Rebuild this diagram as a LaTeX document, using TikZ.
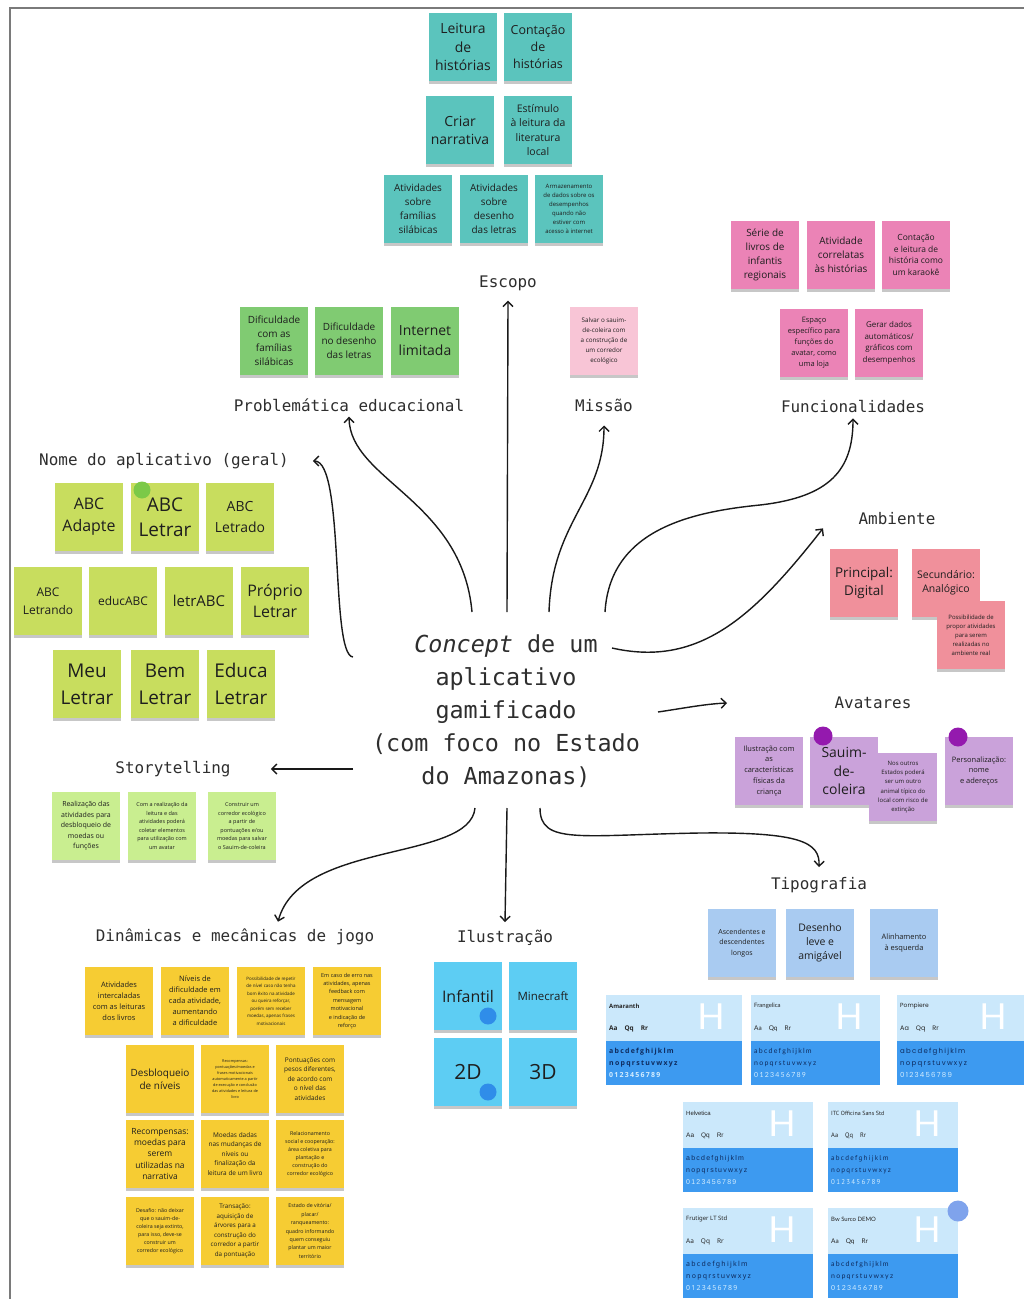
\documentclass[tikz,border=0pt]{standalone}
\usepackage{fontspec}
\setmainfont{Open Sans}
\newfontfamily\monof{DejaVu Sans Mono}[ItalicFont={DejaVu Sans Mono Oblique}]
\newfontfamily\helvf{Liberation Sans}
\newfontfamily\ptf{PT Sans}
\newfontfamily\notof{Noto Sans}
\newfontfamily\latof{Lato}
\newfontfamily\poppf{Poppins}
\usetikzlibrary{arrows.meta,shadows}

\definecolor{cEsc}{HTML}{5BC4BD}
\definecolor{cProb}{HTML}{80CB72}
\definecolor{cMis}{HTML}{F8C5D6}
\definecolor{cFun}{HTML}{EB83B6}
\definecolor{cAmb}{HTML}{F0909B}
\definecolor{cAva}{HTML}{CAA2DA}
\definecolor{cSto}{HTML}{C9EE90}
\definecolor{cNom}{HTML}{C8DD5E}
\definecolor{cDin}{HTML}{F6CC33}
\definecolor{cIlu}{HTML}{5DCDF3}
\definecolor{cTip}{HTML}{A9CBF1}
\definecolor{cardLight}{HTML}{CBE8FB}
\definecolor{cardBlue}{HTML}{3D9AF0}
\definecolor{cardInk}{HTML}{0E2B5E}
\definecolor{cardDigit}{HTML}{D3EDFF}
\definecolor{noteInk}{HTML}{1E1E1E}
\definecolor{lblInk}{HTML}{2E2E2E}
\definecolor{frameGray}{HTML}{7A7A7A}
\definecolor{pinPurple}{HTML}{9419AE}
\definecolor{pinGreen}{HTML}{7CC948}
\definecolor{pinBlue}{HTML}{2F8DE9}
\definecolor{pinPeri}{HTML}{7FA3EC}

\tikzset{
  x=1bp, y=-1bp,
  note/.style={drop shadow={shadow xshift=0bp, shadow yshift=-3bp, opacity=.22, fill=black},
    minimum width=68bp, minimum height=68bp, inner sep=1bp, align=center, text=noteInk},
  fs/.style 2 args={font=\fontsize{#1}{#2}\selectfont},
  escnote/.style={note, fill=cEsc},
  probnote/.style={note, fill=cProb},
  misnote/.style={note, fill=cMis},
  funnote/.style={note, fill=cFun},
  ambnote/.style={note, fill=cAmb},
  avanote/.style={note, fill=cAva},
  stonote/.style={note, fill=cSto},
  nomnote/.style={note, fill=cNom},
  dinnote/.style={note, fill=cDin},
  ilunote/.style={note, fill=cIlu},
  tipnote/.style={note, fill=cTip},
  lbl/.style={font=\monof\fontsize{16}{19}\selectfont, text=lblInk, inner sep=0pt},
  conn/.style={line width=1.4bp, draw=black!90, -{Straight Barb[length=5bp, width=10bp, line width=1.4bp]}},
  pin/.style={circle, inner sep=0pt, minimum size=#1},
  cardtop/.style={fill=cardLight, inner sep=0pt, anchor=north west, minimum height=46bp},
  cardbot/.style={fill=cardBlue, inner sep=0pt, anchor=north west, minimum height=44bp},
  cardtxt/.style={anchor=west, inner sep=0pt},
}

% specimen card: id, left x, top y, width, title, specimen font
\newcommand\typecard[6]{%
  \node[cardtop, minimum width=#4bp] (#1-top) at (#2,#3) {};
  \node[cardbot, minimum width=#4bp] (#1-bot) at (#2,#3+46) {};
  \node[cardtxt, font=#6\fontsize{6}{7}\selectfont, text=black!85] (#1-name) at (#2+3,#3+11) {#5};
  \node[cardtxt, font=#6\fontsize{6.5}{7}\selectfont, text=black!85] (#1-aa) at (#2+3,#3+34) {Aa\hspace{7bp}Qq\hspace{7bp}Rr};
  \node[font=\latof\fontsize{36}{36}\selectfont, text=white, inner sep=0pt] (#1-h) at (#2+#4-31,#3+22) {H};
  \node[cardtxt, font=#6\fontsize{7}{8}\selectfont\addfontfeature{LetterSpace=18}, text=cardInk] (#1-l1) at (#2+3,#3+57) {abcdefghijklm};
  \node[cardtxt, font=#6\fontsize{7}{8}\selectfont\addfontfeature{LetterSpace=18}, text=cardInk] (#1-l2) at (#2+3,#3+69) {nopqrstuvwxyz};
  \node[cardtxt, font=#6\fontsize{7}{8}\selectfont\addfontfeature{LetterSpace=18}, text=cardDigit] (#1-l3) at (#2+3,#3+80) {0123456789};
}

\begin{document}
\begin{tikzpicture}
\useasboundingbox (0,0) rectangle (1024,1299);
\fill[white] (0,0) rectangle (1024,1299);
% board frame
\draw[frameGray, line width=2.5bp] (10,1299) -- (10,8) -- (1024,8);

% ---------- central theme ----------
\node[font=\monof\fontsize{23.5}{33}\selectfont, align=center, text=lblInk, inner sep=0pt] (concept) at (506,711)
  {\textit{Concept} de um\\aplicativo\\gamificado\\(com foco no Estado\\do Amazonas)};

% ---------- Escopo ----------
\node[escnote, fs={14}{18.5}] (e1) at (463,47) {Leitura\\de\\histórias};
\node[escnote, fs={12.5}{17}] (e2) at (538,47) {Contação\\de\\histórias};
\node[escnote, fs={14}{18}] (e3) at (460,130) {Criar\\narrativa};
\node[escnote, fs={10.5}{14.5}] (e4) at (538,130) {Estímulo\\à leitura da\\literatura\\local};
\node[escnote, fs={10}{14}] (e5) at (418,209) {Atividades\\sobre\\famílias\\silábicas};
\node[escnote, fs={10}{14}] (e6) at (494,209) {Atividades\\sobre\\desenho\\das letras};
\node[escnote, fs={6}{9}] (e7) at (569,209) {Armazenamento\\de dados sobre os\\desempenhos\\quando não\\estiver com\\acesso à internet};
\node[lbl] (escopo) at (508,283) {Escopo};

% ---------- Problemática educacional ----------
\node[probnote, fs={10}{14}] (p1) at (274,341) {Dificuldade\\com as\\famílias\\silábicas};
\node[probnote, fs={10}{14}] (p2) at (349,341) {Dificuldade\\no desenho\\das letras};
\node[probnote, fs={14}{20}] (p3) at (425,341) {Internet\\limitada};
\node[lbl] (prob) at (349,405) {Problemática educacional};

% ---------- Missão ----------
\node[misnote, fs={6.3}{10}] (m1) at (604,341) {Salvar o sauim-\\de-coleira com\\a construção de\\um corredor\\ecológico};
\node[lbl] (missao) at (604,405) {Missão};

% ---------- Funcionalidades ----------
\node[funnote, fs={10}{14}] (f1) at (765,255) {Série de\\livros de\\infantis\\regionais};
\node[funnote, fs={10}{14}] (f2) at (841,255) {Atividade\\correlatas\\às histórias};
\node[funnote, fs={8.5}{11.5}] (f3) at (916,255) {Contação\\e leitura de\\história como\\um karaokê};
\node[funnote, fs={7.5}{11}] (f4) at (814,343) {Espaço\\específico para\\funções do\\avatar, como\\uma loja};
\node[funnote, fs={8}{11.5}] (f5) at (889,343) {Gerar dados\\automáticos/\\gráficos com\\desempenhos};
\node[lbl] (func) at (853,407) {Funcionalidades};

% ---------- Ambiente ----------
\node[ambnote, fs={13.5}{19}] (a1) at (864,583) {Principal:\\Digital};
\node[ambnote, fs={10.5}{14}] (a2) at (946,583) {Secundário:\\Analógico};
\node[ambnote, fs={6}{9}] (a3) at (971,635) {Possibilidade de\\propor atividades\\para serem\\realizadas no\\ambiente real};
\node[lbl] (ambiente) at (897,519) {Ambiente};

% ---------- Avatares ----------
\node[avanote, fs={7.5}{11}] (v1) at (769,771) {Ilustração com\\as\\características\\físicas da\\criança};
\node[avanote, fs={14}{19}] (v2) at (844,771) {Sauim-\\de-\\coleira};
\node[avanote, fs={6}{9.2}] (v3) at (903,787) {Nos outros\\Estados poderá\\ser um outro\\animal típico do\\local com risco de\\extinção};
\node[avanote, fs={7.5}{10.5}] (v4) at (979,771) {Personalização:\\nome\\e adereços};
\node[pin=19bp, fill=pinPurple] (vp1) at (823,736) {};
\node[pin=19bp, fill=pinPurple] (vp2) at (958,737) {};
\node[lbl] (avatares) at (873,703) {Avatares};

% ---------- Storytelling ----------
\node[stonote, fs={7}{10.5}] (s1) at (86,826) {Realização das\\atividades para\\desbloqueio de\\moedas ou\\funções};
\node[stonote, fs={5.5}{8.5}] (s2) at (162,826) {Com a realização da\\leitura e das\\atividades poderá\\coletar elementos\\para utilização com\\um avatar};
\node[stonote, fs={5.5}{8.5}] (s3) at (242,826) {Construir um\\corredor ecológico\\a partir de\\pontuações e/ou\\moedas para salvar\\o Sauim-de-coleira};
\node[lbl] (story) at (173,769) {Storytelling};

% ---------- Nome do aplicativo ----------
\node[nomnote, fs={16}{22}] (n1) at (89,517) {ABC\\Adapte};
\node[nomnote, fs={19}{25}] (n2) at (165,517) {ABC\\Letrar};
\node[nomnote, fs={14}{21}] (n3) at (240,517) {ABC\\Letrado};
\node[nomnote, fs={12}{18}] (n4) at (48,601) {ABC\\Letrando};
\node[nomnote, fs={12}{18}] (n5) at (123,601) {educABC};
\node[nomnote, fs={15}{20}] (n6) at (199,601) {letrABC};
\node[nomnote, fs={16}{22}] (n7) at (275,601) {Próprio\\Letrar};
\node[nomnote, fs={19}{27}] (n8) at (87,684) {Meu\\Letrar};
\node[nomnote, fs={19}{27}] (n9) at (165,684) {Bem\\Letrar};
\node[nomnote, fs={19}{27}] (n10) at (241,684) {Educa\\Letrar};
\node[pin=17bp, fill=pinGreen] (np) at (142,490) {};
\node[lbl] (nome) at (164,461) {Nome do aplicativo (geral)};

% ---------- Dinâmicas e mecânicas de jogo ----------
\node[dinnote, fs={7.5}{11}] (g1) at (119,1001) {Atividades\\intercaladas\\com as leituras\\dos livros};
\node[dinnote, fs={7.5}{11}] (g2) at (195,1001) {Níveis de\\dificuldade em\\cada atividade,\\aumentando\\a dificuldade};
\node[dinnote, fs={4.5}{7.5}] (g3) at (271,1001) {Possibilidade de repetir\\de nível caso não tenha\\bom êxito na atividade\\ou queira reforçar,\\porém sem receber\\moedas, apenas frases\\motivacionais};
\node[dinnote, fs={5.5}{8.5}] (g4) at (347,1001) {Em caso de erro nas\\atividades, apenas\\feedback com\\mensagem\\motivacional\\e indicação de\\reforço};
\node[dinnote, fs={10}{13.5}] (g5) at (160,1079) {Desbloqueio\\de níveis};
\node[dinnote, fs={3.8}{6}] (g6) at (235,1079) {Recompensas:\\pontuações/moedas e\\frases motivacionais\\automaticamente a partir\\de execução e conclusão\\das atividades e leitura de\\livro};
\node[dinnote, fs={6.5}{9.5}] (g7) at (310,1079) {Pontuações com\\pesos diferentes,\\de acordo com\\o nível das\\atividades};
\node[dinnote, fs={8.5}{11.5}] (g8) at (160,1154) {Recompensas:\\moedas para\\serem\\utilizadas na\\narrativa};
\node[dinnote, fs={6.5}{9.5}] (g9) at (235,1154) {Moedas dadas\\nas mudanças de\\níveis ou\\finalização da\\leitura de um livro};
\node[dinnote, fs={5.3}{8}] (g10) at (310,1154) {Relacionamento\\social e cooperação:\\área coletiva para\\plantação e\\construção do\\corredor ecológico};
\node[dinnote, fs={5.3}{8}] (g11) at (160,1231) {Desafio: não deixar\\que o sauim-de-\\coleira seja extinto,\\para isso, deve-se\\construir um\\corredor ecológico};
\node[dinnote, fs={6.3}{9.5}] (g12) at (235,1231) {Transação:\\aquisição de\\árvores para a\\construção do\\corredor a partir\\da pontuação};
\node[dinnote, fs={5.3}{8.5}] (g13) at (310,1231) {Estado de vitória/\\placar/\\ranqueamento:\\quadro informando\\quem conseguiu\\plantar um maior\\território};
\node[lbl] (dinam) at (235,937) {Dinâmicas e mecânicas de jogo};

% ---------- Ilustração ----------
\node[ilunote, fs={16}{20}] (i1) at (468,996) {Infantil};
\node[ilunote, fs={11.5}{14}] (i2) at (543,996) {Minecraft};
\node[ilunote, fs={21}{24}] (i3) at (468,1072) {2D};
\node[ilunote, fs={21}{24}] (i4) at (543,1072) {3D};
\node[pin=17bp, fill=pinBlue] (ip1) at (488,1016) {};
\node[pin=17bp, fill=pinBlue] (ip2) at (488,1092) {};
\node[lbl] (ilus) at (505,938) {Ilustração};

% ---------- Tipografia ----------
\node[tipnote, fs={7}{10.5}] (t1) at (742,943) {Ascendentes e\\descendentes\\longos};
\node[tipnote, fs={10.5}{14}] (t2) at (820,943) {Desenho\\leve e\\amigável};
\node[tipnote, fs={7.5}{11}] (t3) at (904,943) {Alinhamento\\à esquerda};
\node[lbl] (tipo) at (819,885) {Tipografia};

\typecard{c1}{606}{995}{136}{\textbf{Amaranth}}{\bfseries}
\typecard{c2}{751}{995}{129}{Frangelica}{\latof}
\typecard{c3}{897}{995}{127}{Pompiere}{\poppf}
\typecard{c4}{683}{1102}{130}{Helvetica}{\helvf}
\typecard{c5}{828}{1102}{130}{ITC Officina Sans Std}{\ptf}
\typecard{c6}{683}{1208}{130}{Frutiger LT Std}{\notof}
\typecard{c7}{828}{1208}{130}{Bw Surco DEMO}{\latof}
\node[pin=21bp, fill=pinPeri] (cp) at (958,1211) {};

% ---------- connectors from the central theme ----------
\coordinate (o-esc) at (507,612);
\coordinate (o-prob) at (472,612);
\coordinate (o-mis) at (549,612);
\coordinate (o-fun) at (605,612);
\coordinate (o-amb) at (612,648);
\coordinate (o-ava) at (658,712);
\coordinate (o-sto) at (353,769);
\coordinate (o-nom) at (353,657);
\coordinate (o-din) at (475,808);
\coordinate (o-ilu) at (507,808);
\coordinate (o-tip) at (540,808);

\draw[conn] (o-esc) -- ([yshift=-10bp]escopo.south);
\draw[conn] (o-prob) .. controls (462,500) and (350,480) .. ([yshift=-5bp]prob.south);
\draw[conn] (o-mis) .. controls (552,520) and (604,500) .. ([yshift=-14bp]missao.south);
\draw[conn] (o-fun) .. controls (610,530) and (690,512) .. (760,505) .. controls (830,497) and (853,470) .. ([yshift=-5bp]func.south);
\draw[conn] (o-amb) .. controls (700,668) and (755,615) .. ([xshift=-74bp,yshift=-3bp]ambiente.south);
\draw[conn] (o-ava) .. controls (685,708) and (705,704) .. ([xshift=-146bp]avatares.center);
\draw[conn] (o-sto) -- ([xshift=40bp]story.east);
\draw[conn] (o-nom) .. controls (330,655) and (345,461) .. ([xshift=24bp]nome.east);
\draw[conn] (o-din) .. controls (470,862) and (300,840) .. ([xshift=43bp,yshift=7bp]dinam.north);
\draw[conn] (o-ilu) -- ([yshift=8bp]ilus.north);
\draw[conn] (o-tip) .. controls (540,845) and (580,835) .. (700,833) .. controls (800,832) and (820,842) .. ([yshift=10bp]tipo.north);
\end{tikzpicture}
\end{document}
